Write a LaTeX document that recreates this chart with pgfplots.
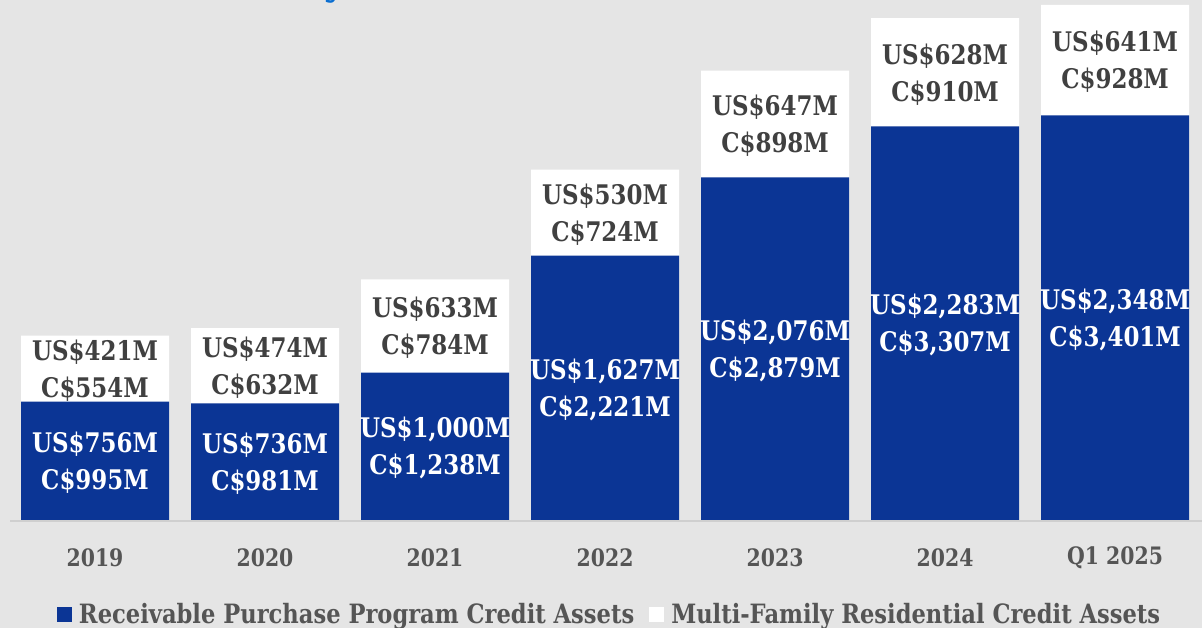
\documentclass[border=0pt]{standalone}
\usepackage{pgfplots}
\pgfplotsset{compat=1.18}
\usepackage{pgfplotstable}
\usepackage{fontspec}
\setmainfont{DejaVu Serif}[FakeStretch=0.85]

\definecolor{bgc}{HTML}{E5E5E5}
\definecolor{rppblue}{HTML}{0B3595}
\definecolor{labgray}{HTML}{404040}
\definecolor{tickgray}{HTML}{555555}
\definecolor{titleblue}{HTML}{0A6ED1}
\definecolor{basegray}{HTML}{CFCFCF}

% C$ values set the bar heights, US$ values only go in the labels
\pgfplotstableread{
idx crpp cmfr urpp umfr
0   995  554  756  421
1   981  632  736  474
2   1238 784  1000 633
3   2221 724  1627 530
4   2879 898  2076 647
5   3307 910  2283 628
6   3401 928  2348 641
}\datatable

\pgfplotsset{
  seglabel/.style={draw=none, mark=none, forget plot, point meta=explicit,
    nodes near coords align={center},
    every node near coord/.append style={anchor=center, inner sep=0pt,
      font=\fontsize{27}{37}\selectfont\bfseries}},
}

\begin{document}
\begin{tikzpicture}[x=1pt,y=1pt]
\useasboundingbox (0,0) rectangle (1202,628);
\fill[bgc] (0,0) rectangle (1202,628);
% tail of the cut-off title
\node[anchor=base, text=titleblue, font=\fontsize{44}{44}\selectfont\bfseries, inner sep=0pt] at (335,634) {y};

\begin{axis}[
  at={(0pt,108pt)}, anchor=south west,
  scale only axis, width=1202pt, height=520pt,
  xmin=-0.558824, xmax=6.511765,
  ymin=0, ymax=4370,
  axis line style={draw=none},
  ytick=\empty,
  xtick={0,...,6},
  xticklabels={2019,2020,2021,2022,2023,2024,Q1 2025},
  major tick length=0pt,
  xticklabel style={anchor=center, yshift=-38pt, text=tickgray,
    font=\fontsize{24}{24}\selectfont\bfseries},
  clip=false,
  /pgf/number format/.cd, fixed, precision=0, 1000 sep={,}, assume math mode=true,
  /pgfplots/.cd,
  legend columns=2,
  legend cell align=left,
  legend image code/.code={\fill[#1] (0pt,-7.5pt) rectangle (15pt,7.5pt);},
  legend style={at={(axis description cs:0.0474,-0.1808)}, anchor=west,
    draw=none, fill=none, inner sep=0pt, outer sep=0pt,
    font=\fontsize{26.6}{27}\selectfont\bfseries,
    nodes={inner sep=0pt, text=tickgray},
    /tikz/every odd column/.append style={column sep=7pt},
    /tikz/every even column/.append style={column sep=15pt}},
]

% baseline
\draw[basegray, line width=2pt] ([yshift=-1pt]axis cs:-0.5,0) -- ([yshift=-1pt]axis cs:6.511765,0);

% bars: white total first, blue part over it
\addplot[ybar, bar width=148pt, bar shift=0pt, fill=white, draw=none, forget plot]
  table[x=idx, y expr=\thisrow{crpp}+\thisrow{cmfr}] {\datatable};
\addplot[ybar, bar width=148pt, bar shift=0pt, fill=rppblue, draw=none, forget plot]
  table[x=idx, y=crpp] {\datatable};

% labels, two lines in the middle of each segment
\addplot[seglabel, nodes near coords={US\$\pgfmathprintnumber{\pgfplotspointmeta}M},
  every node near coord/.append style={text=white, yshift=16.5pt}]
  table[x=idx, y expr=\thisrow{crpp}/2, meta=urpp] {\datatable};
\addplot[seglabel, nodes near coords={C\$\pgfmathprintnumber{\pgfplotspointmeta}M},
  every node near coord/.append style={text=white, yshift=-20.5pt}]
  table[x=idx, y expr=\thisrow{crpp}/2, meta=crpp] {\datatable};
\addplot[seglabel, nodes near coords={US\$\pgfmathprintnumber{\pgfplotspointmeta}M},
  every node near coord/.append style={text=labgray, yshift=16.5pt}]
  table[x=idx, y expr=\thisrow{crpp}+\thisrow{cmfr}/2, meta=umfr] {\datatable};
\addplot[seglabel, nodes near coords={C\$\pgfmathprintnumber{\pgfplotspointmeta}M},
  every node near coord/.append style={text=labgray, yshift=-20.5pt}]
  table[x=idx, y expr=\thisrow{crpp}+\thisrow{cmfr}/2, meta=cmfr] {\datatable};

\addlegendimage{fill=rppblue, draw=none}
\addlegendentry{Receivable Purchase Program Credit Assets}
\addlegendimage{fill=white, draw=none}
\addlegendentry{Multi-Family Residential Credit Assets}
\end{axis}
\end{tikzpicture}
\end{document}
